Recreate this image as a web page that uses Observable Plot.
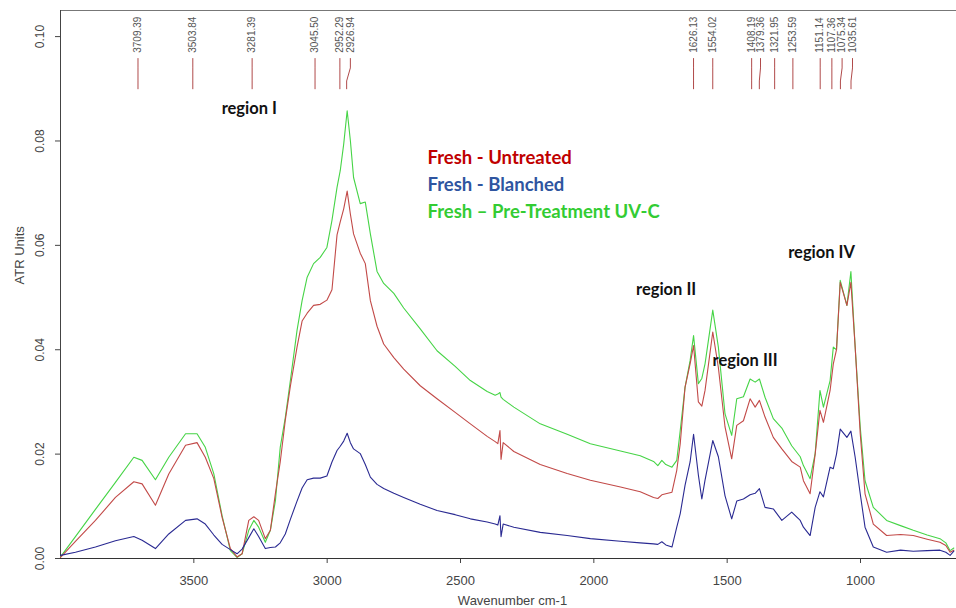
<!DOCTYPE html>
<html><head><meta charset="utf-8">
<script src="https://cdn.jsdelivr.net/npm/d3@7"></script>
<script src="https://cdn.jsdelivr.net/npm/@observablehq/plot@0.6"></script>
<style>body{margin:0;background:#fff;} #chart{width:956px;height:608px;}</style>
</head><body><div id="chart"></div>
<script>
// Wavenumber grid (cm-1) and absorbance (ATR units)
const wavenumbers = [4000,3944,3869,3794,3725,3694,3644,3594,3531,3488,3457,3425,3394,3363,3338,3319,3294,3275,3257,3232,3213,3194,3176,3157,3138,3113,3094,3075,3051,3026,3001,2982,2963,2951,2938,2925,2913,2901,2876,2857,2838,2813,2788,2750,2713,2651,2588,2520,2463,2400,2370,2360,2352,2348,2340,2300,2201,2100,2013,1900,1826,1776,1760,1745,1730,1707,1689,1676,1658,1639,1626,1608,1595,1583,1554,1533,1508,1483,1464,1439,1414,1395,1379,1358,1327,1295,1258,1226,1214,1189,1170,1152,1139,1114,1102,1090,1076,1051,1036,1020,1001,983,952,902,850,802,750,702,680,664,650];
const untreated = [0.0002,0.0033,0.0073,0.0117,0.0147,0.0143,0.0102,0.0162,0.0217,0.0222,0.0194,0.0153,0.0079,0.0019,0.0003,0.0009,0.0073,0.0080,0.0073,0.0038,0.0054,0.0125,0.0185,0.0265,0.0330,0.0405,0.0455,0.0470,0.0485,0.0487,0.0495,0.0515,0.0620,0.0645,0.0670,0.0704,0.0660,0.0622,0.0585,0.0565,0.0494,0.0445,0.0411,0.0385,0.0363,0.0331,0.0306,0.0280,0.0258,0.0234,0.0224,0.0220,0.0245,0.0190,0.0222,0.0205,0.0180,0.0163,0.0150,0.0137,0.0128,0.0117,0.0115,0.0122,0.0124,0.0127,0.0169,0.0220,0.0328,0.0373,0.0408,0.0300,0.0292,0.0322,0.0434,0.0366,0.0252,0.0191,0.0255,0.0264,0.0306,0.0290,0.0303,0.0271,0.0232,0.0210,0.0186,0.0175,0.0149,0.0124,0.0200,0.0284,0.0261,0.0322,0.0373,0.0400,0.0529,0.0485,0.0529,0.0405,0.0239,0.0124,0.0066,0.0044,0.0046,0.0044,0.0037,0.0031,0.0025,0.0012,0.0016];
const blanched = [0.0006,0.0012,0.0022,0.0034,0.0042,0.0035,0.0019,0.0047,0.0073,0.0076,0.0066,0.0045,0.0027,0.0017,0.0009,0.0018,0.0040,0.0057,0.0042,0.0019,0.0021,0.0022,0.0030,0.0047,0.0075,0.0110,0.0135,0.0151,0.0154,0.0154,0.0158,0.0185,0.0207,0.0215,0.0225,0.0240,0.0222,0.0210,0.0201,0.0180,0.0156,0.0142,0.0134,0.0125,0.0117,0.0104,0.0092,0.0084,0.0076,0.0070,0.0066,0.0064,0.0082,0.0042,0.0066,0.0060,0.0050,0.0044,0.0038,0.0033,0.0030,0.0028,0.0027,0.0032,0.0026,0.0022,0.0060,0.0086,0.0140,0.0185,0.0238,0.0160,0.0114,0.0150,0.0226,0.0195,0.0120,0.0076,0.0110,0.0114,0.0122,0.0125,0.0134,0.0098,0.0095,0.0073,0.0089,0.0073,0.0060,0.0044,0.0098,0.0128,0.0118,0.0175,0.0172,0.0200,0.0248,0.0232,0.0244,0.0194,0.0124,0.0060,0.0022,0.0012,0.0016,0.0014,0.0015,0.0016,0.0012,0.0006,0.0014];
const uvc = [0.0003,0.0042,0.0094,0.0146,0.0194,0.0188,0.0151,0.0194,0.0239,0.0239,0.0213,0.0162,0.0082,0.0015,0.0002,0.0009,0.0054,0.0073,0.0060,0.0031,0.0054,0.0111,0.0213,0.0270,0.0341,0.0437,0.0494,0.0539,0.0565,0.0577,0.0596,0.0648,0.0711,0.0743,0.0794,0.0858,0.0801,0.0730,0.0680,0.0683,0.0622,0.0550,0.0527,0.0508,0.0480,0.0440,0.0398,0.0368,0.0341,0.0320,0.0313,0.0315,0.0318,0.0309,0.0305,0.0290,0.0258,0.0238,0.0220,0.0206,0.0197,0.0186,0.0178,0.0188,0.0180,0.0175,0.0188,0.0245,0.0328,0.0379,0.0427,0.0335,0.0345,0.0373,0.0476,0.0405,0.0277,0.0236,0.0306,0.0310,0.0344,0.0338,0.0344,0.0309,0.0268,0.0250,0.0216,0.0195,0.0178,0.0153,0.0201,0.0322,0.0290,0.0341,0.0405,0.0400,0.0533,0.0485,0.0550,0.0405,0.0252,0.0149,0.0098,0.0073,0.0063,0.0054,0.0045,0.0038,0.0030,0.0015,0.0020];

const seriesNames = ["Fresh - Untreated", "Fresh - Blanched", "Fresh \u2013 Pre-Treatment UV-C"];
const lineColors = ["#c24a48", "#2a2a92", "#46d446"];
const legendColors = ["#c00000", "#2f55a0", "#33cc33"];

// Peak picks: true position, and the position of the label where labels crowd
const peakWavenumbers = [3709.39,3503.84,3281.39,3045.50,2952.29,2926.94,1626.13,1554.02,1408.19,1379.36,1321.95,1253.59,1151.14,1107.36,1075.34,1035.61];
const peakLabelWavenumbers = [3709.39,3503.84,3281.39,3045.50,2952.29,2913,1626.13,1554.02,1408.19,1375,1321.95,1253.59,1151.14,1107.36,1069,1030];
const peakLevels = [0.0900, 0.0915, 0.0940, 0.0958, 0.0969]; // bottom, kink start, kink end, top, label

const regionNames = ["region I", "region II", "region III", "region IV"];
const regionWavenumbers = [3292, 1729, 1433, 1146];
const regionHeights = [0.0862, 0.0515, 0.0379, 0.0586];

const xTicks = [3500, 3000, 2500, 2000, 1500, 1000];
const yTicks = [0, 0.02, 0.04, 0.06, 0.08, 0.10];

const seriesValues = [untreated, blanched, uvc];
const drawOrder = [2, 0, 1];
const lineMarks = drawOrder.map(i => Plot.line(
  wavenumbers.map((w, k) => ({w, v: seriesValues[i][k]})),
  {x: "w", y: "v", stroke: lineColors[i], strokeWidth: 1.1}
));

const peakPaths = [];
peakWavenumbers.forEach((p, i) => {
  const lab = peakLabelWavenumbers[i];
  [[lab, peakLevels[3]], [lab, peakLevels[2]], [p, peakLevels[1]], [p, peakLevels[0]]]
    .forEach(([w, v]) => peakPaths.push({w, v, id: i}));
});

const labelFont = "Lato, 'Open Sans', sans-serif";

const chart = Plot.plot({
  width: 956,
  height: 608,
  marginLeft: 60,
  marginRight: 0,
  marginTop: 10,
  marginBottom: 50,
  style: {fontFamily: "'Liberation Sans', Arial, sans-serif", background: "#fff", overflow: "visible"},
  x: {domain: [4000, 640]},
  y: {domain: [0, 0.105]},
  marks: [
    Plot.axisX({ticks: xTicks, tickSize: 5, tickPadding: 12, fontSize: 13, color: "#444", label: null, tickFormat: d => String(d)}),
    Plot.axisY({ticks: yTicks, tickSize: 5, tickPadding: 12, tickRotate: -90, fontSize: 12, color: "#444", label: null, tickFormat: d3.format(".2f")}),
    Plot.ruleY([0.105], {stroke: "#777"}),
    Plot.ruleX([4000], {stroke: "#444"}),
    Plot.ruleY([0], {stroke: "#333"}),
    ...lineMarks,
    Plot.line(peakPaths, {x: "w", y: "v", z: "id", stroke: "#b04a4a", strokeWidth: 1}),
    Plot.text(peakWavenumbers, {
      x: (d, i) => peakLabelWavenumbers[i], y: () => peakLevels[4],
      text: d => d.toFixed(2), rotate: -90, textAnchor: "start", lineAnchor: "middle",
      fontSize: 10, fill: "#555"
    }),
    Plot.text(regionNames, {
      x: (d, i) => regionWavenumbers[i], y: (d, i) => regionHeights[i], text: d => d,
      fontFamily: labelFont, fontWeight: "bold", fontSize: 16.5, fill: "#111",
      textAnchor: "middle", lineAnchor: "middle"
    }),
    ...seriesNames.map((name, i) => Plot.text([name], {
      frameAnchor: "top-left", dx: 367, dy: 148 + i * 27, text: d => d,
      fontFamily: labelFont, fontWeight: "bold", fontSize: 18.5, fill: legendColors[i],
      textAnchor: "start", lineAnchor: "middle"
    })),
    Plot.text(["Wavenumber cm-1"], {frameAnchor: "bottom", dx: 4, dy: 42, text: d => d, fontSize: 13, fill: "#444", lineAnchor: "middle"}),
    Plot.text(["ATR Units"], {frameAnchor: "left", dx: -41, text: d => d, rotate: -90, fontSize: 13, fill: "#444", lineAnchor: "middle"})
  ]
});
document.getElementById("chart").appendChild(chart);
</script>
</body></html>
